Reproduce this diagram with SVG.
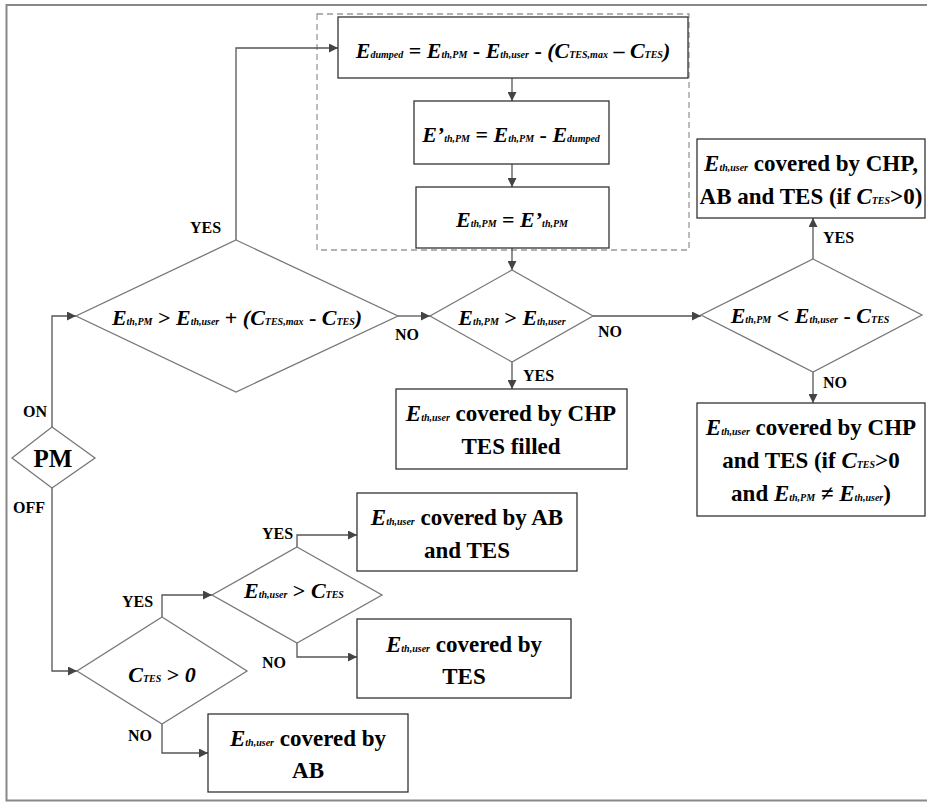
<svg xmlns="http://www.w3.org/2000/svg" width="927" height="802" viewBox="0 0 927 802">
<defs>
<style>
.t{font-family:"Liberation Serif","Times New Roman",serif;font-weight:bold;fill:#000}
.m{font-size:23px}
.mi{font-size:23px;font-style:italic}
.fi{font-size:22px;font-style:italic}
.fo{font-size:22px}
.s{font-size:10px;font-style:italic}
.lbl{font-size:16px}
.box{fill:#fff;stroke:#333;stroke-width:1.3}
.dia{fill:#fff;stroke:#777;stroke-width:1.3}
.con{fill:none;stroke:#555;stroke-width:1.3}
.frame{fill:none;stroke:#888;stroke-width:2}
</style>
<marker id="ah" viewBox="0 0 10 10" refX="10" refY="5" markerWidth="11" markerHeight="9" markerUnits="userSpaceOnUse" orient="auto">
<path d="M0,0 L10,5 L0,10 z" fill="#444"/>
</marker>
</defs>
<rect width="927" height="802" fill="#fff"/>
<path class="frame" d="M927,5 H6.5 V800.5 H927"/>
<rect id="group-dashed" x="317" y="14" width="372" height="236" fill="none" stroke="#999" stroke-width="1.3" stroke-dasharray="6,4"/>

<g id="connectors">
<path class="con" d="M512,78 V101" marker-end="url(#ah)"/>
<path class="con" d="M512,164 V187" marker-end="url(#ah)"/>
<path class="con" d="M512,248 V270" marker-end="url(#ah)"/>
<path class="con" d="M236,240 V48 H338" marker-end="url(#ah)"/>
<path class="con" d="M398,316 H430" marker-end="url(#ah)"/>
<path class="con" d="M593,316 H701" marker-end="url(#ah)"/>
<path class="con" d="M512,362 V389" marker-end="url(#ah)"/>
<path class="con" d="M813,259 V218" marker-end="url(#ah)"/>
<path class="con" d="M813,372 V403" marker-end="url(#ah)"/>
<path class="con" d="M52,427 V316 H76" marker-end="url(#ah)"/>
<path class="con" d="M52,488 V671 H77" marker-end="url(#ah)"/>
<path class="con" d="M162,617 V595 H212" marker-end="url(#ah)"/>
<path class="con" d="M162,724 V753 H208" marker-end="url(#ah)"/>
<path class="con" d="M297,547 V535 H357" marker-end="url(#ah)"/>
<path class="con" d="M297,643 V657 H357" marker-end="url(#ah)"/>
<text class="t lbl" x="190" y="233">YES</text>
<text class="t lbl" x="395" y="340">NO</text>
<text class="t lbl" x="598" y="337">NO</text>
<text class="t lbl" x="523" y="381">YES</text>
<text class="t lbl" x="823" y="243">YES</text>
<text class="t lbl" x="823" y="388">NO</text>
<text class="t lbl" x="23" y="417">ON</text>
<text class="t lbl" x="13" y="513">OFF</text>
<text class="t lbl" x="122" y="607">YES</text>
<text class="t lbl" x="128" y="741">NO</text>
<text class="t lbl" x="262" y="539">YES</text>
<text class="t lbl" x="262" y="668">NO</text>
</g>

<g id="box-dumped">
<rect class="box" x="338" y="17" width="350" height="61"/>
<text class="t" x="513" y="58" text-anchor="middle"><tspan class="fi">E</tspan><tspan class="s">dumped</tspan><tspan class="fo"> = </tspan><tspan class="fi">E</tspan><tspan class="s">th,PM</tspan><tspan class="fo"> - </tspan><tspan class="fi">E</tspan><tspan class="s">th,user</tspan><tspan class="fo"> - </tspan><tspan class="fi">(C</tspan><tspan class="s">TES,max</tspan><tspan class="fo"> – </tspan><tspan class="fi">C</tspan><tspan class="s">TES</tspan><tspan class="fi">)</tspan></text>
</g>

<g id="box-eprime">
<rect class="box" x="414" y="101" width="195" height="63"/>
<text class="t" x="511" y="142" text-anchor="middle"><tspan class="fi">E’</tspan><tspan class="s">th,PM</tspan><tspan class="fo"> = </tspan><tspan class="fi">E</tspan><tspan class="s">th,PM</tspan><tspan class="fo"> - </tspan><tspan class="fi">E</tspan><tspan class="s">dumped</tspan></text>
</g>

<g id="box-assign">
<rect class="box" x="416" y="187" width="193" height="61"/>
<text class="t" x="512" y="227" text-anchor="middle"><tspan class="fi">E</tspan><tspan class="s">th,PM</tspan><tspan class="fo"> = </tspan><tspan class="fi">E’</tspan><tspan class="s">th,PM</tspan></text>
</g>

<g id="dec-surplus">
<polygon class="dia" points="236,240 398,316 236,392 76,316"/>
<text class="t" x="237" y="325" text-anchor="middle"><tspan class="fi">E</tspan><tspan class="s">th,PM</tspan><tspan class="fo"> &gt; </tspan><tspan class="fi">E</tspan><tspan class="s">th,user</tspan><tspan class="fo"> + </tspan><tspan class="fi">(C</tspan><tspan class="s">TES,max</tspan><tspan class="fo"> - </tspan><tspan class="fi">C</tspan><tspan class="s">TES</tspan><tspan class="fi">)</tspan></text>
</g>

<g id="dec-pm-user">
<polygon class="dia" points="512,270 593,316 512,362 430,316"/>
<text class="t" x="512" y="325" text-anchor="middle"><tspan class="fi">E</tspan><tspan class="s">th,PM</tspan><tspan class="fo"> &gt; </tspan><tspan class="fi">E</tspan><tspan class="s">th,user</tspan></text>
</g>

<g id="box-chp-filled">
<rect class="box" x="396" y="389" width="231" height="80"/>
<text class="t m" x="511" y="421" text-anchor="middle"><tspan class="mi">E</tspan><tspan class="s">th,user</tspan> covered by CHP</text>
<text class="t m" x="511" y="454" text-anchor="middle">TES filled</text>
</g>

<g id="dec-pm-user-tes">
<polygon class="dia" points="813,259 922,315 813,372 701,315"/>
<text class="t" x="810" y="323" text-anchor="middle"><tspan class="fi">E</tspan><tspan class="s">th,PM</tspan><tspan class="fo"> &lt; </tspan><tspan class="fi">E</tspan><tspan class="s">th,user</tspan><tspan class="fo"> - </tspan><tspan class="fi">C</tspan><tspan class="s">TES</tspan></text>
</g>

<g id="box-chp-ab-tes">
<rect class="box" x="697" y="139" width="228" height="79"/>
<text class="t m" x="811" y="171" text-anchor="middle"><tspan class="mi">E</tspan><tspan class="s">th,user</tspan> covered by CHP,</text>
<text class="t m" x="811" y="204" text-anchor="middle">AB and TES (if <tspan class="mi">C</tspan><tspan class="s">TES</tspan>&gt;0)</text>
</g>

<g id="box-chp-tes">
<rect class="box" x="697" y="403" width="228" height="113"/>
<text class="t m" x="811" y="435" text-anchor="middle"><tspan class="mi">E</tspan><tspan class="s">th,user</tspan> covered by CHP</text>
<text class="t m" x="811" y="468" text-anchor="middle">and TES (if <tspan class="mi">C</tspan><tspan class="s">TES</tspan>&gt;0</text>
<text class="t m" x="811" y="501" text-anchor="middle">and <tspan class="mi">E</tspan><tspan class="s">th,PM</tspan> ≠ <tspan class="mi">E</tspan><tspan class="s">th,user</tspan>)</text>
</g>

<g id="dec-pm">
<polygon class="dia" points="52,427 95,458 52,488 12,458"/>
<text class="t" x="53" y="467" text-anchor="middle" font-size="25">PM</text>
</g>

<g id="dec-ctes">
<polygon class="dia" points="162,617 247,671 162,724 77,671"/>
<text class="t" x="162" y="682" text-anchor="middle"><tspan class="fi">C</tspan><tspan class="s">TES</tspan><tspan class="fo"> &gt; </tspan><tspan class="fi">0</tspan></text>
</g>

<g id="dec-user-ctes">
<polygon class="dia" points="297,547 382,595 297,643 212,595"/>
<text class="t" x="294" y="598" text-anchor="middle"><tspan class="fi">E</tspan><tspan class="s">th,user</tspan><tspan class="fo"> &gt; </tspan><tspan class="fi">C</tspan><tspan class="s">TES</tspan></text>
</g>

<g id="box-ab-tes">
<rect class="box" x="357" y="493" width="220" height="78"/>
<text class="t m" x="467" y="525" text-anchor="middle"><tspan class="mi">E</tspan><tspan class="s">th,user</tspan> covered by AB</text>
<text class="t m" x="467" y="558" text-anchor="middle">and TES</text>
</g>

<g id="box-tes">
<rect class="box" x="357" y="619" width="214" height="79"/>
<text class="t m" x="464" y="652" text-anchor="middle"><tspan class="mi">E</tspan><tspan class="s">th,user</tspan> covered by</text>
<text class="t m" x="464" y="684" text-anchor="middle">TES</text>
</g>

<g id="box-ab">
<rect class="box" x="208" y="714" width="200" height="78"/>
<text class="t m" x="308" y="746" text-anchor="middle"><tspan class="mi">E</tspan><tspan class="s">th,user</tspan> covered by</text>
<text class="t m" x="308" y="778" text-anchor="middle">AB</text>
</g>
</svg>
